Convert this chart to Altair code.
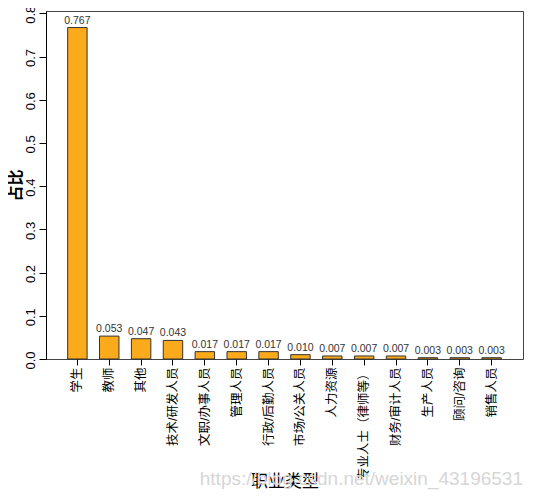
import altair as alt
import pandas as pd

categories = ["学生", "教师", "其他", "技术/研发人员", "文职/办事人员", "管理人员",
              "行政/后勤人员", "市场/公关人员", "人力资源", "专业人士（律师等）",
              "财务/审计人员", "生产人员", "顾问/咨询", "销售人员"]
values = [0.767, 0.053, 0.047, 0.043, 0.017, 0.017, 0.017, 0.010,
          0.007, 0.007, 0.007, 0.003, 0.003, 0.003]
y_ticks = [0.0, 0.1, 0.2, 0.3, 0.4, 0.5, 0.6, 0.7, 0.8]

df = pd.DataFrame({"cat": categories, "val": values})

FONT = "Liberation Sans, Noto Sans CJK SC"

x = alt.X("cat:N", sort=None,
          scale=alt.Scale(paddingInner=0.39, paddingOuter=0.68),
          axis=alt.Axis(title="职业类型", labelAngle=-90, labelFontSize=12.5,
                        labelFont=FONT, labelColor="#000", tickSize=6,
                        tickColor="#000", labelPadding=2, domain=False,
                        titleFontSize=17, titleFont=FONT, titleFontWeight="normal",
                        titleColor="#000", titleY=122, titleBaseline="middle"))
y = alt.Y("val:Q",
          scale=alt.Scale(domain=[0, 0.8053], nice=False),
          axis=alt.Axis(title="占比", values=y_ticks, format=".1f", labelAngle=-90,
                        labelAlign="center", labelBaseline="bottom", labelOffset=1,
                        labelFontSize=13, labelFont=FONT, labelColor="#000",
                        tickSize=7, tickColor="#000", labelPadding=2,
                        grid=False, domainColor="#000",
                        titleFontSize=16, titleFont=FONT, titleFontWeight="bold",
                        titleColor="#000", titleX=-31, titleY=174,
                        titleAngle=-90, titleAlign="center", titleBaseline="middle"))

bars = alt.Chart(df).mark_bar(color="#FBAA1C", stroke="#333", strokeWidth=1).encode(x=x, y=y)
labels = alt.Chart(df).mark_text(baseline="bottom", dy=-2, fontSize=10.5, font=FONT,
                                 color="#333").encode(
    x=alt.X("cat:N", sort=None), y="val:Q", text=alt.Text("val:Q", format=".3f"))
watermark = alt.Chart(pd.DataFrame({"t": ["https://blog.csdn.net/weixin_43196531"]})).mark_text(
    align="right", baseline="middle", fontSize=19, font=FONT, color="#d6d6d6").encode(
    x=alt.value(477), y=alt.value(468), text="t:N")

chart = alt.layer(bars, labels, watermark).properties(
    width=477, height=348,
    autosize=alt.AutoSizeParams(type="none"),
    padding={"left": 38, "top": 3, "right": 3, "bottom": 131},
).configure_view(stroke="#444", strokeWidth=1).configure_axis(domainColor="#000")

chart.save("out.html", embed_options={"renderer": "svg", "actions": False})
